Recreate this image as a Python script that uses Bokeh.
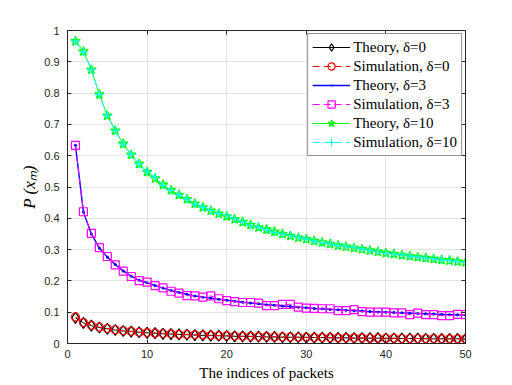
from bokeh.plotting import figure
from bokeh.models import LinearAxis, FixedTicker, Legend, LegendItem, PrintfTickFormatter
from bokeh.embed import file_html
from bokeh.resources import INLINE

packets = list(range(1, 51))

theory_d0 = [0.082, 0.066, 0.057, 0.051, 0.047, 0.043, 0.040, 0.038, 0.036, 0.034,
             0.033, 0.031, 0.030, 0.029, 0.028, 0.027, 0.026, 0.025, 0.025, 0.024,
             0.023, 0.023, 0.022, 0.022, 0.021, 0.021, 0.020, 0.020, 0.020, 0.019,
             0.019, 0.019, 0.018, 0.018, 0.018, 0.017, 0.017, 0.017, 0.017, 0.016,
             0.016, 0.016, 0.016, 0.016, 0.015, 0.015, 0.015, 0.015, 0.015, 0.014]
sim_d0 = [0.085, 0.067, 0.058, 0.052, 0.048, 0.044, 0.041, 0.039, 0.036, 0.035,
          0.033, 0.032, 0.031, 0.029, 0.029, 0.028, 0.027, 0.026, 0.025, 0.025,
          0.024, 0.023, 0.023, 0.022, 0.022, 0.021, 0.021, 0.021, 0.020, 0.020,
          0.019, 0.019, 0.019, 0.018, 0.018, 0.018, 0.018, 0.017, 0.017, 0.017,
          0.017, 0.016, 0.016, 0.016, 0.016, 0.016, 0.015, 0.015, 0.015, 0.015]
theory_d3 = [0.633, 0.420, 0.350, 0.305, 0.276, 0.252, 0.232, 0.215, 0.202, 0.194,
             0.185, 0.177, 0.169, 0.163, 0.157, 0.152, 0.148, 0.145, 0.141, 0.138,
             0.135, 0.132, 0.129, 0.127, 0.124, 0.122, 0.120, 0.118, 0.116, 0.114,
             0.112, 0.111, 0.109, 0.108, 0.106, 0.105, 0.104, 0.102, 0.101, 0.100,
             0.099, 0.098, 0.097, 0.096, 0.095, 0.094, 0.093, 0.092, 0.092, 0.091]
sim_d3 = [0.633, 0.421, 0.352, 0.306, 0.278, 0.251, 0.231, 0.214, 0.201, 0.196,
          0.185, 0.178, 0.167, 0.161, 0.153, 0.152, 0.148, 0.152, 0.143, 0.137,
          0.134, 0.131, 0.131, 0.129, 0.121, 0.121, 0.125, 0.125, 0.116, 0.113,
          0.112, 0.111, 0.111, 0.105, 0.105, 0.108, 0.102, 0.100, 0.100, 0.100,
          0.098, 0.098, 0.092, 0.097, 0.092, 0.092, 0.089, 0.089, 0.093, 0.092]
theory_d10 = [0.966, 0.933, 0.875, 0.796, 0.728, 0.680, 0.638, 0.603, 0.574, 0.548,
              0.527, 0.507, 0.490, 0.475, 0.461, 0.447, 0.435, 0.424, 0.415, 0.406,
              0.397, 0.388, 0.379, 0.371, 0.364, 0.357, 0.350, 0.344, 0.338, 0.333,
              0.328, 0.323, 0.318, 0.313, 0.309, 0.305, 0.301, 0.297, 0.293, 0.289,
              0.286, 0.282, 0.279, 0.276, 0.273, 0.270, 0.267, 0.265, 0.262, 0.259]
sim_d10 = [0.966, 0.932, 0.876, 0.795, 0.729, 0.681, 0.637, 0.604, 0.573, 0.549,
           0.531, 0.505, 0.489, 0.475, 0.462, 0.446, 0.436, 0.425, 0.416, 0.409,
           0.398, 0.388, 0.377, 0.372, 0.363, 0.354, 0.350, 0.345, 0.340, 0.334,
           0.327, 0.322, 0.319, 0.313, 0.310, 0.307, 0.302, 0.297, 0.294, 0.288,
           0.286, 0.283, 0.279, 0.276, 0.273, 0.271, 0.267, 0.265, 0.262, 0.260]

x_ticks = [0, 10, 20, 30, 40, 50]
y_ticks = [0, 0.1, 0.2, 0.3, 0.4, 0.5, 0.6, 0.7, 0.8, 0.9, 1]

legend_labels = ["Theory, δ=0", "Simulation, δ=0", "Theory, δ=3",
                 "Simulation, δ=3", "Theory, δ=10", "Simulation, δ=10"]

AX = "#262626"
p = figure(width=505, height=383, x_range=(0, 50), y_range=(0, 1),
           output_backend="svg", toolbar_location=None,
           min_border_left=67, min_border_right=40, min_border_top=30, min_border_bottom=40)
p.background_fill_color = "white"
p.border_fill_color = "white"
p.outline_line_color = AX
p.outline_line_width = 1

p.xaxis.ticker = FixedTicker(ticks=x_ticks)
p.yaxis.ticker = FixedTicker(ticks=y_ticks)
p.yaxis.formatter = PrintfTickFormatter(format="%g")
for ax in (p.xaxis[0], p.yaxis[0]):
    ax.major_tick_in = 4
    ax.major_tick_out = 0
    ax.minor_tick_line_color = None
    ax.axis_line_color = AX
    ax.major_tick_line_color = AX
    ax.major_label_text_font = "Liberation Sans"
    ax.major_label_text_font_size = "11px"
    ax.major_label_text_color = AX
    ax.axis_label_text_color = "black"
    ax.axis_label_text_font = "Liberation Serif"
    ax.axis_label_text_font_size = "15px"
    ax.axis_label_text_font_style = "normal"
p.xaxis.major_label_standoff = 6
p.xaxis.axis_label_standoff = 4
p.yaxis.major_label_standoff = 8
p.yaxis.axis_label_standoff = 2
p.xaxis.axis_label = "The indices of packets"
p.yaxis.axis_label = "P (xₘ)"
p.yaxis.axis_label_text_font_style = "italic"
p.yaxis.axis_label_text_font_size = "17px"

for loc, tks in (("above", x_ticks), ("right", y_ticks)):
    ax = LinearAxis(ticker=FixedTicker(ticks=tks))
    ax.major_tick_in = 4
    ax.major_tick_out = 0
    ax.minor_tick_line_color = None
    ax.major_label_text_font_size = "11px"
    ax.major_label_text_color = None
    ax.axis_line_color = AX
    ax.major_tick_line_color = AX
    p.add_layout(ax, loc)

p.xgrid.ticker = FixedTicker(ticks=x_ticks)
p.ygrid.ticker = FixedTicker(ticks=y_ticks)
p.grid.grid_line_color = "#e3e3e3"
p.grid.grid_line_width = 1

DASH = "7 4"
items = []

l = p.line(packets, theory_d0, line_color="black", line_width=1)
m = p.scatter(packets, theory_d0, marker="diamond", size=11, fill_color=None, line_color="black", line_width=1.2)
items.append(LegendItem(label=legend_labels[0], renderers=[l, m]))
l = p.line(packets, sim_d0, line_color="#ff0000", line_width=1, line_dash=DASH)
m = p.scatter(packets, sim_d0, marker="circle", size=8, fill_color=None, line_color="#ff0000", line_width=1.2)
items.append(LegendItem(label=legend_labels[1], renderers=[l, m]))

l = p.line(packets, theory_d3, line_color="#0000ff", line_width=1.4)
m = p.scatter(packets, theory_d3, marker="dot", size=12, line_color="#0000ff", fill_color="#0000ff", line_width=1.5)
items.append(LegendItem(label=legend_labels[2], renderers=[l, m]))
l = p.line(packets, sim_d3, line_color="#ff00ff", line_width=1, line_dash=DASH)
m = p.scatter(packets, sim_d3, marker="square", size=8, fill_color=None, line_color="#ff00ff", line_width=1.2)
items.append(LegendItem(label=legend_labels[3], renderers=[l, m]))

l = p.line(packets, theory_d10, line_color="#00ff00", line_width=1)
m = p.scatter(packets, theory_d10, marker="star", size=10, fill_color=None, line_color="#00ff00", line_width=1.3)
items.append(LegendItem(label=legend_labels[4], renderers=[l, m]))
l = p.line(packets, sim_d10, line_color="#00ffff", line_width=1, line_dash=DASH)
m = p.scatter(packets, sim_d10, marker="cross", size=8, line_color="#00ffff", line_width=1.2)
items.append(LegendItem(label=legend_labels[5], renderers=[l, m]))

legend = Legend(items=items, location="top_right")
legend.label_text_font = "Liberation Serif"
legend.label_text_font_size = "15px"
legend.label_text_color = "black"
legend.glyph_width = 38
legend.glyph_height = 18
legend.label_height = 18
legend.spacing = 1
legend.padding = 4
legend.margin = 3
legend.label_standoff = 3
legend.border_line_color = AX
legend.border_line_width = 1
legend.background_fill_color = "white"
legend.background_fill_alpha = 1
p.add_layout(legend)

open("out.html", "w").write(file_html(p, INLINE))
